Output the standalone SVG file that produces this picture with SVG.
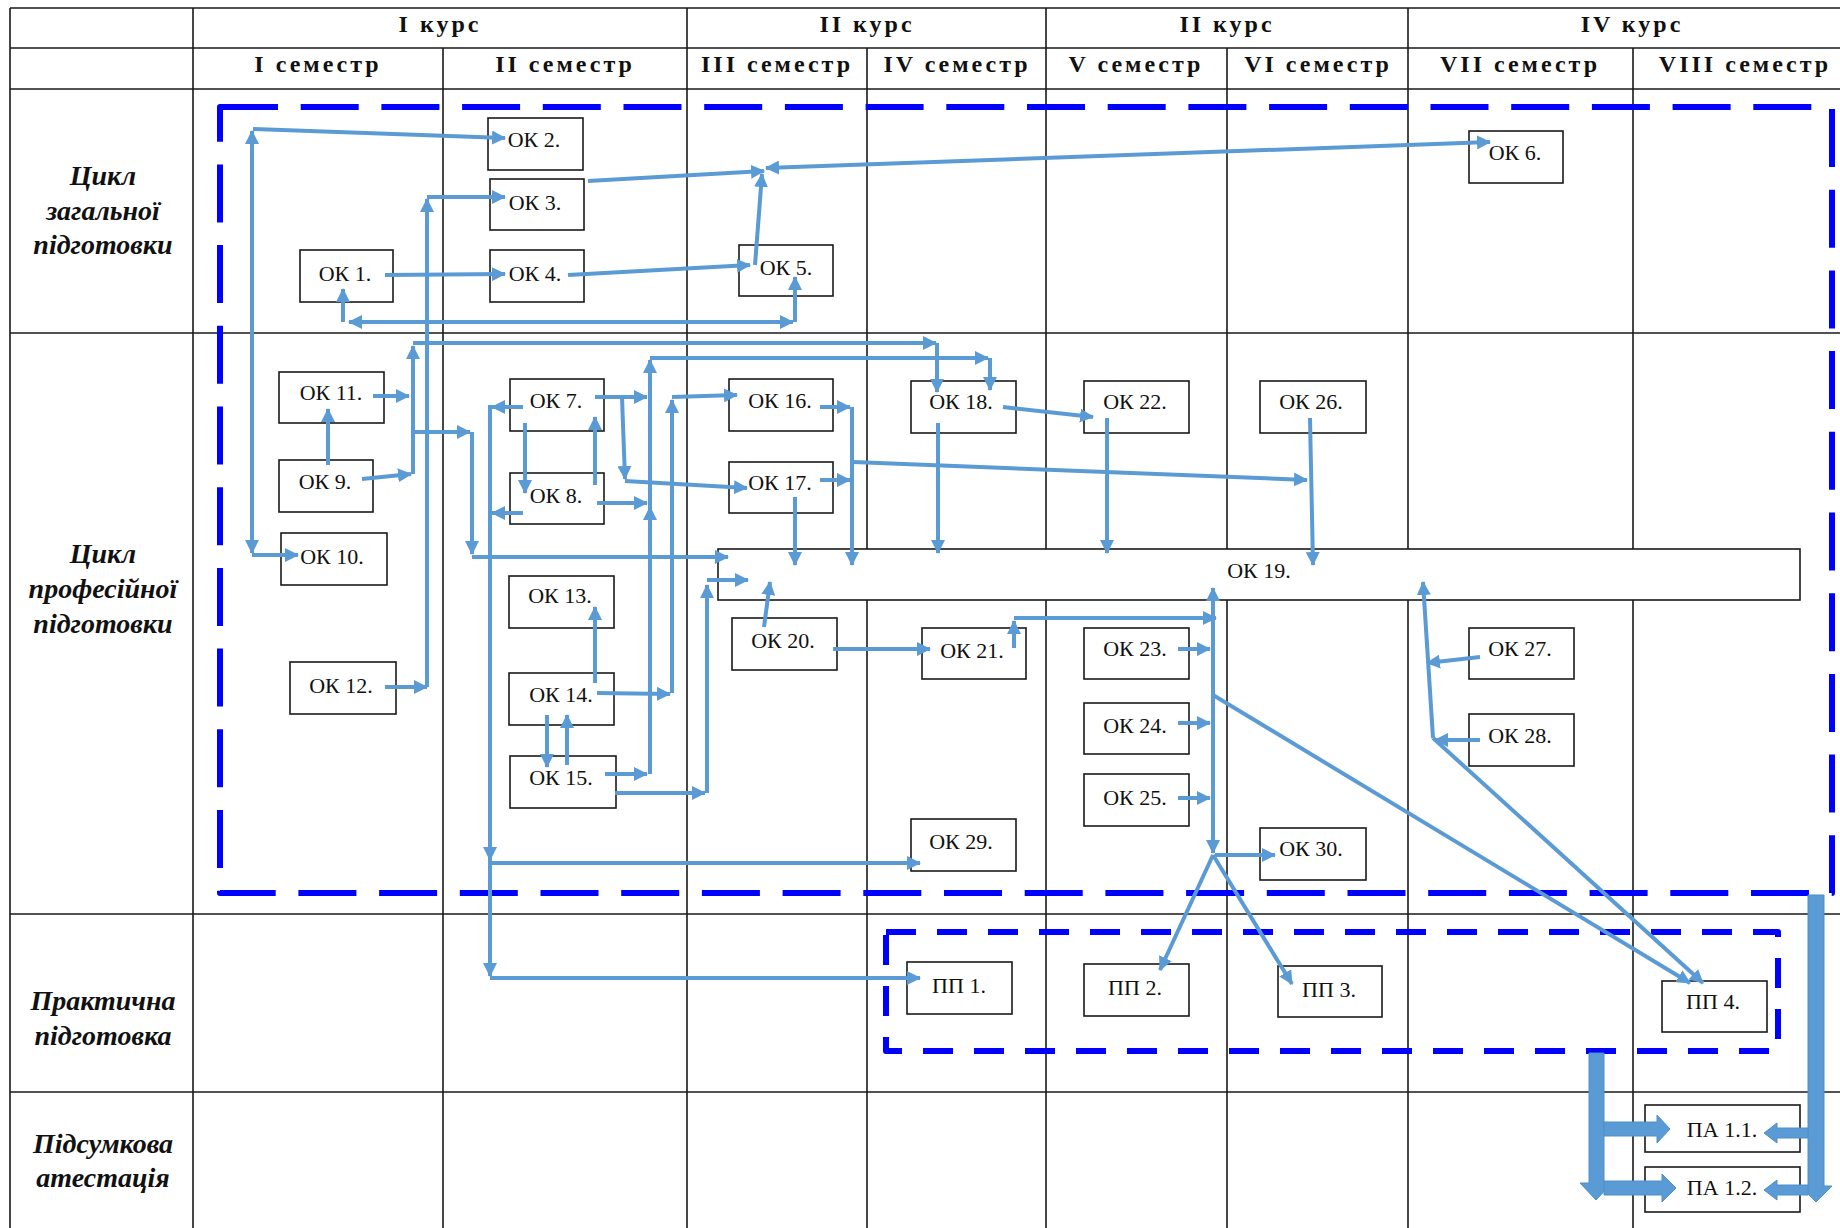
<svg xmlns="http://www.w3.org/2000/svg" width="1840" height="1228" viewBox="0 0 1840 1228">
<style>
.g{stroke:#1a1a1a;stroke-width:1.6;fill:none}
.h{font-family:"Liberation Serif",serif;font-weight:bold;font-size:24px;letter-spacing:3px;text-anchor:middle;fill:#111}
.r{font-family:"Liberation Serif",serif;font-weight:bold;font-style:italic;font-size:28px;text-anchor:middle;fill:#111}
.b{fill:#fff;stroke:#1a1a1a;stroke-width:1.6}
.t{font-family:"Liberation Serif",serif;font-size:22px;text-anchor:middle;fill:#111}
.c{stroke:#5b9bd5;stroke-width:4;fill:none;marker-end:url(#ah)}
.s{marker-start:url(#ah)}
.d{stroke:#0000ff;stroke-width:6;fill:none;stroke-linejoin:round}
.f{fill:#5b9bd5;stroke:#4f8fc9;stroke-width:1}
</style>
<defs>
<marker id="ah" viewBox="0 0 14 14" refX="13" refY="7" markerWidth="14" markerHeight="14" markerUnits="userSpaceOnUse" orient="auto-start-reverse"><path d="M0,0 L14,7 L0,14 z" fill="#5b9bd5"/></marker>
</defs>
<rect width="1840" height="1228" fill="#fff"/>
<g id="grid">
<path class="g" d="M10,8H1840M10,48H1840M10,89H1840M10,333H1840M10,914H1840M10,1092H1840"/>
<path class="g" d="M10,8V1228M193,8V1228M687,8V1228M1046,8V1228M1408,8V1228M443,48V1228M867,48V1228M1227,48V1228M1633,48V1228"/>
<text class="h" x="440" y="32">I курс</text>
<text class="h" x="867" y="32">II курс</text>
<text class="h" x="1227" y="32">II курс</text>
<text class="h" x="1632" y="32">IV курс</text>
<text class="h" x="318" y="72">I семестр</text>
<text class="h" x="565" y="72">II семестр</text>
<text class="h" x="777" y="72">III семестр</text>
<text class="h" x="957" y="72">IV семестр</text>
<text class="h" x="1136" y="72">V семестр</text>
<text class="h" x="1318" y="72">VI семестр</text>
<text class="h" x="1520" y="72">VII семестр</text>
<text class="h" x="1745" y="72">VIII семестр</text>
<text class="r" x="103" y="185">Цикл</text>
<text class="r" x="103" y="220">загальної</text>
<text class="r" x="103" y="254">підготовки</text>
<text class="r" x="103" y="563">Цикл</text>
<text class="r" x="103" y="598">професійної</text>
<text class="r" x="103" y="633">підготовки</text>
<text class="r" x="103" y="1010">Практична</text>
<text class="r" x="103" y="1045">підготовка</text>
<text class="r" x="103" y="1153">Підсумкова</text>
<text class="r" x="103" y="1187">атестація</text>
</g>
<g id="frames">
<path class="d" d="M220,107H1832V893H220Z" stroke-dasharray="58 22.7"/>
<path class="d" d="M886,932H1778V1051H886Z" stroke-dasharray="30 21"/>
</g>
<g id="ok19"><rect class="b" x="718" y="549" width="1082" height="51"/><text class="t" x="1259" y="578">ОК 19.</text></g>
<g id="ok1"><rect class="b" x="300" y="250" width="93" height="52"/><text class="t" x="345" y="281">ОК 1.</text></g>
<g id="ok2"><rect class="b" x="488" y="118" width="95" height="52"/><text class="t" x="534" y="147">ОК 2.</text></g>
<g id="ok3"><rect class="b" x="490" y="179" width="94" height="51"/><text class="t" x="535" y="210">ОК 3.</text></g>
<g id="ok4"><rect class="b" x="490" y="250" width="94" height="52"/><text class="t" x="535" y="281">ОК 4.</text></g>
<g id="ok5"><rect class="b" x="739" y="245" width="94" height="51"/><text class="t" x="786" y="275">ОК 5.</text></g>
<g id="ok6"><rect class="b" x="1469" y="131" width="94" height="52"/><text class="t" x="1515" y="160">ОК 6.</text></g>
<g id="ok7"><rect class="b" x="510" y="379" width="94" height="52"/><text class="t" x="556" y="408">ОК 7.</text></g>
<g id="ok8"><rect class="b" x="510" y="473" width="94" height="51"/><text class="t" x="556" y="503">ОК 8.</text></g>
<g id="ok9"><rect class="b" x="279" y="460" width="94" height="52"/><text class="t" x="325" y="489">ОК 9.</text></g>
<g id="ok10"><rect class="b" x="281" y="533" width="106" height="52"/><text class="t" x="332" y="564">ОК 10.</text></g>
<g id="ok11"><rect class="b" x="279" y="372" width="105" height="51"/><text class="t" x="331" y="400">ОК 11.</text></g>
<g id="ok12"><rect class="b" x="290" y="662" width="106" height="52"/><text class="t" x="341" y="693">ОК 12.</text></g>
<g id="ok13"><rect class="b" x="509" y="576" width="105" height="52"/><text class="t" x="560" y="603">ОК 13.</text></g>
<g id="ok14"><rect class="b" x="509" y="673" width="105" height="52"/><text class="t" x="561" y="702">ОК 14.</text></g>
<g id="ok15"><rect class="b" x="510" y="756" width="106" height="52"/><text class="t" x="561" y="785">ОК 15.</text></g>
<g id="ok16"><rect class="b" x="729" y="379" width="104" height="52"/><text class="t" x="780" y="408">ОК 16.</text></g>
<g id="ok17"><rect class="b" x="729" y="462" width="104" height="51"/><text class="t" x="780" y="490">ОК 17.</text></g>
<g id="ok18"><rect class="b" x="911" y="381" width="105" height="52"/><text class="t" x="961" y="409">ОК 18.</text></g>
<g id="ok20"><rect class="b" x="732" y="618" width="105" height="52"/><text class="t" x="783" y="648">ОК 20.</text></g>
<g id="ok21"><rect class="b" x="922" y="628" width="104" height="51"/><text class="t" x="972" y="658">ОК 21.</text></g>
<g id="ok22"><rect class="b" x="1084" y="381" width="105" height="52"/><text class="t" x="1135" y="409">ОК 22.</text></g>
<g id="ok23"><rect class="b" x="1084" y="628" width="105" height="51"/><text class="t" x="1135" y="656">ОК 23.</text></g>
<g id="ok24"><rect class="b" x="1084" y="703" width="105" height="51"/><text class="t" x="1135" y="733">ОК 24.</text></g>
<g id="ok25"><rect class="b" x="1084" y="774" width="105" height="52"/><text class="t" x="1135" y="805">ОК 25.</text></g>
<g id="ok26"><rect class="b" x="1260" y="381" width="106" height="52"/><text class="t" x="1311" y="409">ОК 26.</text></g>
<g id="ok27"><rect class="b" x="1469" y="628" width="105" height="51"/><text class="t" x="1520" y="656">ОК 27.</text></g>
<g id="ok28"><rect class="b" x="1469" y="714" width="105" height="52"/><text class="t" x="1520" y="743">ОК 28.</text></g>
<g id="ok29"><rect class="b" x="911" y="819" width="105" height="52"/><text class="t" x="961" y="849">ОК 29.</text></g>
<g id="ok30"><rect class="b" x="1260" y="828" width="106" height="52"/><text class="t" x="1311" y="856">ОК 30.</text></g>
<g id="pp1"><rect class="b" x="907" y="962" width="105" height="52"/><text class="t" x="959" y="993">ПП 1.</text></g>
<g id="pp2"><rect class="b" x="1084" y="964" width="105" height="52"/><text class="t" x="1135" y="995">ПП 2.</text></g>
<g id="pp3"><rect class="b" x="1278" y="966" width="104" height="51"/><text class="t" x="1329" y="997">ПП 3.</text></g>
<g id="pp4"><rect class="b" x="1662" y="981" width="105" height="51"/><text class="t" x="1713" y="1009">ПП 4.</text></g>
<g id="pa11"><rect class="b" x="1645" y="1105" width="155" height="47"/><text class="t" x="1722" y="1137">ПА 1.1.</text></g>
<g id="pa12"><rect class="b" x="1645" y="1167" width="155" height="45"/><text class="t" x="1722" y="1195">ПА 1.2.</text></g>
<g id="connectors">
<path class="c" d="M253,129L505,138"/>
<path class="c s" d="M252,553L252,131"/>
<path class="c" d="M252,555L298,555"/>
<path class="c" d="M385,687L427,687"/>
<path class="c" d="M427,687L427,199"/>
<path class="c" d="M427,197L505,197"/>
<path class="c" d="M385,275L505,274"/>
<path class="c" d="M343,322L343,289"/>
<path class="c s" d="M349,322L793,322"/>
<path class="c" d="M795,322L795,277"/>
<path class="c" d="M588,181L764,171"/>
<path class="c" d="M755,265L762,174"/>
<path class="c s" d="M766,168L1490,142"/>
<path class="c" d="M568,275L750,265"/>
<path class="c" d="M373,396L409,396"/>
<path class="c" d="M362,479L411,474"/>
<path class="c" d="M328,465L328,409"/>
<path class="c" d="M413,474L413,346"/>
<path class="c" d="M413,343L936,343"/>
<path class="c" d="M937,343L937,392"/>
<path class="c" d="M413,432L470,432"/>
<path class="c" d="M472,432L472,554"/>
<path class="c" d="M472,557L728,557"/>
<path class="c" d="M523,407L492,407"/>
<path class="c" d="M523,513L492,513"/>
<path class="c" d="M490,405L490,860"/>
<path class="c" d="M490,860L490,976"/>
<path class="c" d="M490,863L920,863"/>
<path class="c" d="M490,978L920,978"/>
<path class="c" d="M595,397L647,397"/>
<path class="c" d="M622,397L625,479"/>
<path class="c" d="M625,481L747,488"/>
<path class="c" d="M525,423L525,493"/>
<path class="c" d="M595,485L595,417"/>
<path class="c" d="M597,503L647,503"/>
<path class="c" d="M650,774L650,507"/>
<path class="c" d="M650,507L650,360"/>
<path class="c" d="M650,358L988,358"/>
<path class="c" d="M990,358L990,390"/>
<path class="c" d="M605,774L647,774"/>
<path class="c" d="M595,683L595,607"/>
<path class="c" d="M547,715L547,767"/>
<path class="c" d="M567,765L567,715"/>
<path class="c" d="M597,693L670,694"/>
<path class="c" d="M672,693L672,400"/>
<path class="c" d="M672,397L737,395"/>
<path class="c" d="M820,407L850,407"/>
<path class="c" d="M852,407L852,565"/>
<path class="c" d="M820,480L850,480"/>
<path class="c" d="M853,462L1307,480"/>
<path class="c" d="M795,497L795,565"/>
<path class="c" d="M764,627L770,582"/>
<path class="c" d="M833,649L930,649"/>
<path class="c" d="M615,793L705,793"/>
<path class="c" d="M707,793L707,585"/>
<path class="c" d="M707,580L748,580"/>
<path class="c" d="M1003,407L1093,417"/>
<path class="c" d="M938,423L938,553"/>
<path class="c" d="M1107,418L1107,553"/>
<path class="c" d="M1310,418L1313,565"/>
<path class="c s" d="M1213,853L1213,588"/>
<path class="c" d="M1014,648L1014,621"/>
<path class="c" d="M1014,618L1216,618"/>
<path class="c" d="M1178,649L1210,649"/>
<path class="c" d="M1178,723L1210,723"/>
<path class="c" d="M1178,798L1210,798"/>
<path class="c" d="M1213,695L1690,983"/>
<path class="c" d="M1433,738L1703,983"/>
<path class="c" d="M1433,738L1423,582"/>
<path class="c" d="M1480,657L1427,663"/>
<path class="c" d="M1480,740L1435,740"/>
<path class="c" d="M1215,855L1275,855"/>
<path class="c" d="M1213,855L1160,970"/>
<path class="c" d="M1213,855L1292,984"/>
<polygon class="f" points="1589,1053 1604,1053 1604,1183 1612,1183 1596,1200 1580,1183 1589,1183"/>
<polygon class="f" points="1808,895 1824,895 1824,1186 1832,1186 1816,1202 1800,1186 1808,1186"/>
<polygon class="f" points="1604,1122 1657,1122 1657,1115 1670,1129 1657,1143 1657,1136 1604,1136"/>
<polygon class="f" points="1604,1181 1662,1181 1662,1174 1676,1188 1662,1202 1662,1195 1604,1195"/>
<polygon class="f" points="1808,1128 1777,1128 1777,1123 1764,1133 1777,1143 1777,1138 1808,1138"/>
<polygon class="f" points="1808,1185 1777,1185 1777,1180 1764,1190 1777,1200 1777,1195 1808,1195"/>
</g>
</svg>
